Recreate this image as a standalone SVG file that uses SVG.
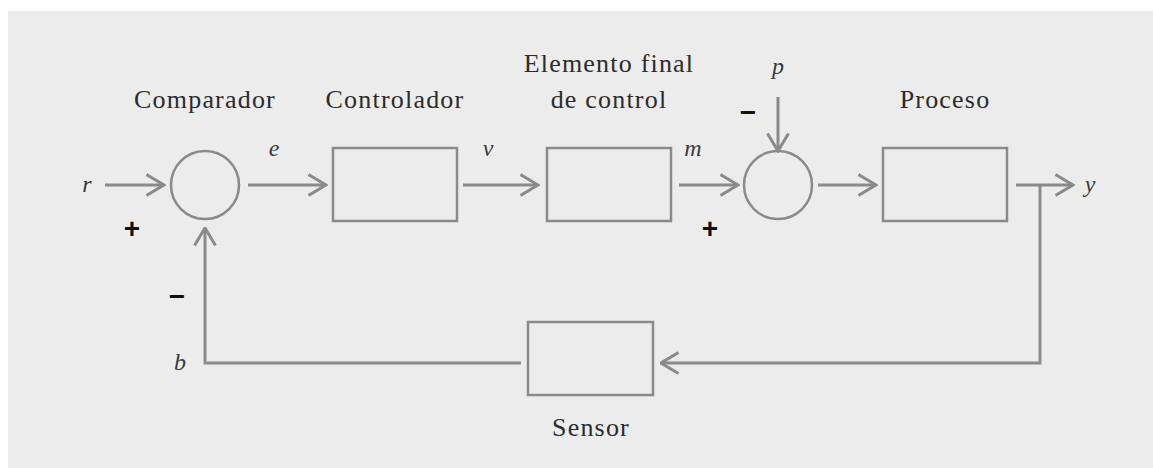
<svg xmlns="http://www.w3.org/2000/svg" width="1153" height="468" viewBox="0 0 1153 468">
<style>
.bg{fill:#ececec}
.blk{fill:none;stroke:#8a8a8a;stroke-width:2.5}
.ln{fill:none;stroke:#8a8a8a;stroke-width:3}
.lbl{font-family:"Liberation Serif",serif;font-size:26px;fill:#2b2b2b;text-anchor:middle;letter-spacing:1.2px}
.var{font-family:"Liberation Serif",serif;font-size:24px;font-style:italic;fill:#3a3a3a;text-anchor:middle}
.sgn{font-family:"Liberation Sans",sans-serif;font-size:28px;font-weight:bold;fill:#111;text-anchor:middle}
</style>
<defs>
<marker id="ah" markerUnits="userSpaceOnUse" viewBox="0 0 20 24" refX="18.5" refY="12" markerWidth="20" markerHeight="24" orient="auto">
<path d="M1,1.5 L18.5,12 L1,22.5" fill="none" stroke="#8a8a8a" stroke-width="3"/>
</marker>
</defs>
<rect class="bg" x="8" y="11" width="1145" height="457"/>
<g id="comparador">
<circle class="blk" cx="205" cy="185" r="34"/>
<text class="lbl" x="205" y="108">Comparador</text>
</g>
<g id="controlador">
<rect class="blk" x="333" y="148" width="124" height="73"/>
<text class="lbl" x="395" y="108">Controlador</text>
</g>
<g id="elemento">
<rect class="blk" x="547" y="148" width="124" height="73"/>
<text class="lbl" x="609" y="72">Elemento final</text>
<text class="lbl" x="609" y="108">de control</text>
</g>
<g id="sumador">
<circle class="blk" cx="778" cy="185" r="34"/>
</g>
<g id="proceso">
<rect class="blk" x="883" y="148" width="124" height="73"/>
<text class="lbl" x="945" y="108">Proceso</text>
</g>
<g id="sensor">
<rect class="blk" x="528" y="322" width="125" height="73"/>
<text class="lbl" x="591" y="436">Sensor</text>
</g>
<g id="connectors">
<line class="ln" x1="105" y1="185" x2="164" y2="185" marker-end="url(#ah)"/>
<line class="ln" x1="248" y1="185" x2="326" y2="185" marker-end="url(#ah)"/>
<line class="ln" x1="463" y1="185" x2="538" y2="185" marker-end="url(#ah)"/>
<line class="ln" x1="679" y1="185" x2="738" y2="185" marker-end="url(#ah)"/>
<line class="ln" x1="778" y1="97" x2="778" y2="151" marker-end="url(#ah)"/>
<line class="ln" x1="818" y1="185" x2="876" y2="185" marker-end="url(#ah)"/>
<line class="ln" x1="1016" y1="185" x2="1073" y2="185" marker-end="url(#ah)"/>
<polyline class="ln" points="1040,185 1040,363 661,363" marker-end="url(#ah)"/>
<polyline class="ln" points="521,363 205,363 205,228" marker-end="url(#ah)"/>
</g>
<g id="labels">
<text class="var" x="87" y="192">r</text>
<text class="var" x="274" y="156">e</text>
<text class="var" x="488" y="156">v</text>
<text class="var" x="693" y="156">m</text>
<text class="var" x="778" y="74">p</text>
<text class="var" x="1090" y="192">y</text>
<text class="var" x="180" y="370">b</text>
<text class="sgn" x="132" y="238">+</text>
<text class="sgn" x="710" y="238">+</text>
<text class="sgn" x="748" y="122">−</text>
<text class="sgn" x="177" y="306">−</text>
</g>
</svg>
